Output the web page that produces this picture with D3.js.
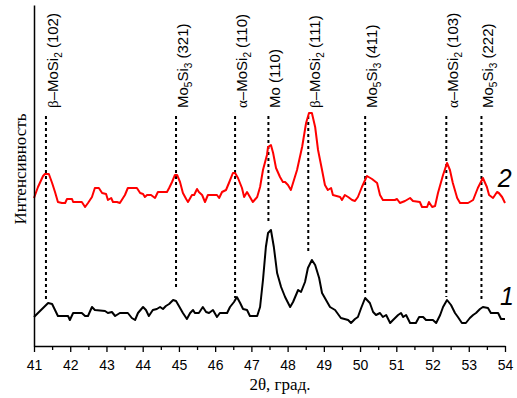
<!DOCTYPE html>
<html>
<head>
<meta charset="utf-8">
<script src="https://cdn.jsdelivr.net/npm/d3@7"></script>
<style>
  html, body { margin: 0; padding: 0; background: #fff; }
  svg { display: block; }
</style>
</head>
<body>
<svg id="chart" width="517" height="398"></svg>
<script>
// ---- data (2θ in degrees, intensity in arbitrary units) ----
const theta2 = [41.00,41.11,41.25,41.30,41.41,41.50,41.58,41.66,41.77,41.86,41.91,42.05,42.08,42.32,42.41,42.49,42.60,42.68,42.79,42.88,42.99,43.04,43.13,43.18,43.29,43.37,43.51,43.59,43.84,43.93,44.01,44.06,44.12,44.23,44.34,44.42,44.67,44.73,44.81,44.89,44.95,45.03,45.11,45.20,45.25,45.36,45.42,45.50,45.55,45.64,45.72,45.80,46.05,46.11,46.19,46.30,46.38,46.49,46.55,46.63,46.74,46.80,46.88,46.96,47.04,47.16,47.24,47.32,47.43,47.46,47.54,47.60,47.68,47.79,47.87,47.93,48.01,48.09,48.26,48.40,48.51,48.59,48.67,48.76,48.84,48.95,49.03,49.11,49.20,49.25,49.45,49.50,49.58,49.67,49.78,49.86,49.94,50.05,50.19,50.33,50.47,50.55,50.63,50.96,51.02,51.10,51.24,51.38,51.46,51.65,51.71,51.85,51.90,51.99,52.07,52.15,52.29,52.40,52.48,52.56,52.68,52.76,52.98,53.12,53.25,53.39,53.50,53.56,53.67,53.78,53.83,53.92,54.00];
const intensity2 = [148,159,170,172,172,163,154,144,143,143,147,147,144,144,139,143,149,158,158,153,152,146,148,144,144,143,151,158,158,153,152,149,151,151,148,154,154,158,164,171,171,164,153,147,144,151,151,157,154,151,144,151,151,148,154,156,163,173,173,168,158,149,154,149,144,149,159,176,191,199,201,193,178,169,164,164,161,156,176,199,223,233,233,219,196,176,161,156,158,151,149,146,151,149,146,145,149,159,170,167,163,151,146,146,147,143,145,148,145,144,139,139,144,139,140,153,171,183,176,163,148,143,143,146,158,168,159,151,148,154,153,149,143];

const theta1 = [41.00,41.11,41.25,41.39,41.50,41.58,41.66,41.94,41.99,42.08,42.32,42.41,42.49,42.60,42.68,42.96,43.04,43.15,43.24,43.37,43.59,43.70,43.79,43.87,44.01,44.09,44.17,44.28,44.39,44.48,44.56,44.64,44.73,44.84,44.92,45.00,45.11,45.22,45.31,45.39,45.44,45.55,45.66,45.75,45.83,45.94,46.05,46.13,46.33,46.41,46.52,46.60,46.69,46.77,46.88,46.96,47.16,47.24,47.32,47.40,47.46,47.54,47.62,47.71,47.82,47.93,48.07,48.15,48.29,48.37,48.48,48.56,48.67,48.76,48.87,48.95,49.06,49.17,49.31,49.47,49.67,49.75,49.86,49.94,50.03,50.14,50.27,50.36,50.44,50.55,50.63,50.72,50.83,50.91,51.05,51.13,51.19,51.27,51.38,51.54,51.63,51.74,51.82,52.01,52.10,52.21,52.29,52.40,52.51,52.62,52.70,52.81,52.92,53.03,53.12,53.20,53.31,53.39,53.53,53.61,53.81,53.89,54.00];
const intensity1 = [29,33,38,43,42,36,30,30,26,33,33,30,30,39,36,35,33,34,30,33,33,28,26,33,39,36,30,36,37,39,37,40,42,46,45,40,33,27,33,36,33,33,39,34,33,36,29,33,33,39,44,49,43,37,36,30,30,39,66,99,113,116,99,73,59,49,39,44,56,54,64,78,86,81,68,53,46,39,36,28,26,23,27,29,38,48,43,34,31,33,29,31,23,26,31,33,29,31,23,23,29,29,26,26,23,31,39,46,41,33,29,23,23,28,31,33,37,39,38,33,33,27,27];

// phase reflections
const phasePositions = [41.33, 44.92, 46.55, 47.47, 48.57, 50.14, 52.38, 53.35];
const phaseLineBottoms = [46, 56, 48, 124, 94, 53, 49, 46];
const phaseLabels = [
  [["β","g"],["–MoSi",""],["2","sub"],[" (102)",""]],
  [["Mo",""],["5","sub"],["Si",""],["3","sub"],[" (321)",""]],
  [["α","g"],["–MoSi",""],["2","sub"],[" (110)",""]],
  [["Mo (110)",""]],
  [["β","g"],["–MoSi",""],["2","sub"],[" (111)",""]],
  [["Mo",""],["5","sub"],["Si",""],["3","sub"],[" (411)",""]],
  [["α","g"],["–MoSi",""],["2","sub"],[" (103)",""]],
  [["Mo",""],["5","sub"],["Si",""],["3","sub"],[" (222)",""]]
];
const xTicks = [41,42,43,44,45,46,47,48,49,50,51,52,53,54];
const xMinorTicks = [41.5,42.5,43.5,44.5,45.5,46.5,47.5,48.5,49.5,50.5,51.5,52.5,53.5];
const curveNumbers = ["1", "2"];
const curveNumberPos = [[53.86, 41], [53.80, 159]];

// ---- layout ----
const svg = d3.select("#chart");
const margin = {left: 34, right: 12, top: 5, bottom: 52};
const W = 517, H = 398;
const x = d3.scaleLinear().domain([41, 54]).range([margin.left, W - margin.right]);
const y = d3.scaleLinear().domain([0, 341]).range([H - margin.bottom, margin.top]);

const sans = "'Liberation Sans', Arial, sans-serif";
const serif = "'Liberation Serif', 'Times New Roman', serif";

// phase dashed lines
const phaseTop = 230;
svg.append("g").selectAll("line").data(phasePositions).join("line")
  .attr("x1", d => x(d)).attr("x2", d => x(d))
  .attr("y1", y(phaseTop))
  .attr("y2", (d, i) => y(phaseLineBottoms[i]))
  .attr("stroke", "#000").attr("stroke-width", 2)
  .attr("stroke-dasharray", "3,3");

// phase labels
const labG = svg.append("g");
phasePositions.forEach((p, i) => {
  const t = labG.append("text")
    .attr("transform", `translate(${x(p) + 12},108) rotate(-90)`)
    .attr("font-family", sans).attr("font-size", 15).attr("fill", "#000");
  phaseLabels[i].forEach(([s, kind]) => {
    const ts = t.append("tspan").text(s);
    if (kind === "sub") ts.attr("font-size", 10).attr("dy", 4);
    else if (kind === "g") ts.attr("font-family", serif);
    // restore baseline after subscript
  });
  // fix baseline shifts: reset dy after each sub
  let prevSub = false;
  t.selectAll("tspan").each(function(_, j) {
    const kind = phaseLabels[i][j][1];
    if (kind !== "sub" && prevSub) d3.select(this).attr("dy", -4);
    prevSub = kind === "sub";
  });
});

// curves
const line = d3.line().x(d => x(d[0])).y(d => y(d[1]));
svg.append("path")
  .attr("d", line(theta2.map((t, i) => [t, intensity2[i]])))
  .attr("fill", "none").attr("stroke", "#ff0000").attr("stroke-width", 2)
  .attr("stroke-linejoin", "round");
svg.append("path")
  .attr("d", line(theta1.map((t, i) => [t, intensity1[i]])))
  .attr("fill", "none").attr("stroke", "#000").attr("stroke-width", 2)
  .attr("stroke-linejoin", "round");

// curve numbers
svg.append("g").selectAll("text").data(curveNumbers).join("text")
  .attr("x", (d, i) => x(curveNumberPos[i][0]))
  .attr("y", (d, i) => y(curveNumberPos[i][1]))
  .attr("font-family", sans).attr("font-style", "italic").attr("font-size", 25)
  .text(d => d);

// axes
const xAxis = svg.append("g")
  .attr("transform", `translate(0,${H - margin.bottom})`)
  .call(d3.axisBottom(x).tickValues(xTicks).tickFormat(d3.format("d"))
        .tickSize(6).tickSizeOuter(0).tickPadding(8));
xAxis.select(".domain").attr("stroke-width", 1.5);
xAxis.selectAll(".tick line").attr("stroke-width", 1.3);
xAxis.selectAll("text").attr("font-family", sans).attr("font-size", 14).attr("fill", "#000");

const xMinor = svg.append("g")
  .attr("transform", `translate(0,${H - margin.bottom})`)
  .call(d3.axisBottom(x).tickValues(xMinorTicks).tickFormat("").tickSize(4).tickSizeOuter(0));
xMinor.select(".domain").remove();
xMinor.selectAll(".tick line").attr("stroke-width", 1.3);

const yAxis = svg.append("g")
  .attr("transform", `translate(${margin.left},0)`)
  .call(d3.axisLeft(y).tickValues([]).tickSizeOuter(0));
yAxis.select(".domain").attr("stroke-width", 1.5);

// axis titles
svg.append("text")
  .attr("x", 280).attr("y", 390)
  .attr("text-anchor", "middle")
  .attr("font-family", serif).attr("font-size", 17)
  .text("2θ, град.");
svg.append("text")
  .attr("transform", "translate(26,169) rotate(-90)")
  .attr("text-anchor", "middle")
  .attr("font-family", serif).attr("font-size", 17)
  .text("Интенсивность");
</script>
</body>
</html>
